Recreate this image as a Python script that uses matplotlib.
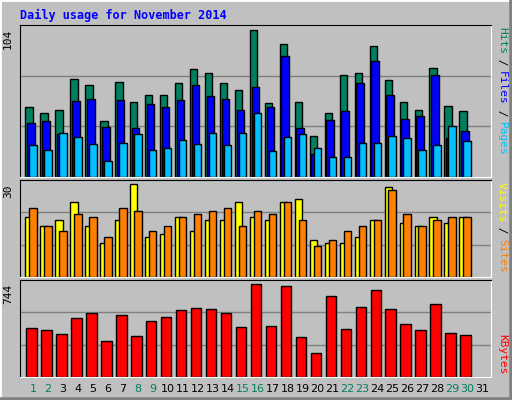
import matplotlib
matplotlib.use('Agg')
import matplotlib.pyplot as plt

days = list(range(1, 32))
hits = [49.6, 45.4, 47.5, 69.4, 65.2, 39.8, 67.3, 53.2, 58.1, 58.1, 66.6, 76.5, 73.6, 66.6, 61.6,
        104, 52.5, 94.1, 53.2, 29.2, 45.4, 72.2, 73.6, 92.7, 68.7, 53.2, 47.5, 77.2, 50.4, 46.8]
files = [38.4, 39.8, 30.6, 53.4, 55.3, 35.5, 54.6, 34.8, 51.8, 49.6, 54.6, 65.2, 57.4, 55.3, 47.5,
         63.8, 49.6, 85.6, 34.8, 16.5, 40.5, 46.8, 66.6, 82.1, 58.1, 41.2, 43.3, 72.2, 27.8, 32.7]
pages = [22.8, 19.3, 31.3, 28.5, 23.5, 11.5, 24.2, 30.6, 19.3, 20.7, 26.4, 23.5, 31.3, 22.8, 31.3,
         45.4, 18.6, 28.5, 30.6, 20.7, 14.4, 14.4, 24.2, 24.2, 29.2, 27.8, 19.3, 22.8, 36.2, 25.6]
sites = [19.2, 16.3, 18.3, 24.1, 16.3, 11.1, 18.3, 30, 13.0, 14.0, 19.2, 15.0, 18.3, 18.3, 24.1,
         19.2, 18.3, 24.1, 25.1, 12.1, 11.1, 11.1, 13.0, 18.3, 29.0, 17.3, 16.3, 19.2, 17.3, 19.2]
visits = [22.2, 16.3, 15.0, 20.2, 19.2, 13.0, 22.2, 21.2, 15.0, 16.3, 19.2, 20.2, 21.2, 22.2, 16.3,
          21.2, 20.2, 24.1, 18.3, 10.1, 12.1, 15.0, 16.3, 18.3, 28.0, 20.2, 16.3, 18.3, 19.2, 19.2]
kbytes = [392, 376, 343, 474, 515, 286, 499, 327, 450, 482, 540, 556, 548, 515, 401,
          744, 409, 728, 319, 196, 654, 384, 564, 695, 548, 425, 376, 589, 352, 335]
weekend = [1, 2, 8, 9, 15, 16, 22, 23, 29, 30]

W, H = 512, 400
BG = '#C0C0C0'
MONO = 'DejaVu Sans Mono'
fig = plt.figure(figsize=(W / 100, H / 100), dpi=100, facecolor=BG)

# 3D-ish border
fig.add_artist(plt.Line2D([0, 0], [0, 1], color='white', lw=2, transform=fig.transFigure))
fig.add_artist(plt.Line2D([0, 1], [1, 1], color='white', lw=2, transform=fig.transFigure))
fig.add_artist(plt.Line2D([1, 1], [0, 1], color='#808080', lw=4, transform=fig.transFigure))
fig.add_artist(plt.Line2D([0, 1], [0, 0], color='#808080', lw=4, transform=fig.transFigure))

fig.text(20 / W, 1 - 15 / H, 'Daily usage for November 2014', color='#0000FF',
         fontsize=8.5, fontweight='bold', family=MONO, va='center')


def panel(top, bottom):
    ax = fig.add_axes([20 / W, 1 - bottom / H, (491 - 20) / W, (bottom - top) / H])
    ax.set_facecolor(BG)
    ax.set_xlim(0.13, 31.6)
    for y in (1 / 3, 2 / 3):
        ax.plot([0, 1], [y, y], color='#808080', lw=1, transform=ax.transAxes, zorder=0)
    ax.set_xticks([])
    ax.set_yticks([])
    ax.spines['top'].set_color('black')
    ax.spines['left'].set_color('black')
    ax.spines['right'].set_color('white')
    ax.spines['bottom'].set_color('white')
    return ax


def side_label(ax, parts):
    # parts listed top-to-bottom; text reads top-to-bottom rotated 270
    bb = ax.get_position()
    x = bb.x1 + 11 / W
    y = bb.y1 - 2 / H
    for txt, col in parts:
        fig.text(x, y, txt, color=col, rotation=270, fontsize=8, family=MONO,
                 ha='center', va='top')
        y -= len(txt) * 6.3 / H


d = days[:len(hits)]
kw = dict(edgecolor='black', linewidth=1, align='edge')

ax1 = panel(25, 177)
ax1.bar([x - 0.51 for x in d], hits, width=0.49, color='#00805F', **kw)
ax1.bar([x - 0.40 for x in d], files, width=0.51, color='#0000FF', **kw)
ax1.bar([x - 0.25 for x in d], pages, width=0.50, color='#00C0FF', **kw)
ax1.set_ylim(0, 107.2)
fig.text(8 / W, 1 - 29 / H, '104', rotation=90, fontsize=8, family=MONO, ha='center', va='top')
side_label(ax1, [('Hits', '#00805F'), (' / ', 'black'), ('Files', '#0000FF'),
                 (' / ', 'black'), ('Pages', '#00C0FF')])

ax2 = panel(180, 277)
ax2.bar([x - 0.51 for x in d], sites, width=0.49, color='#FFFF00', **kw)
ax2.bar([x - 0.25 for x in d], visits, width=0.50, color='#FF8000', **kw)
ax2.set_ylim(0, 31.3)
fig.text(8 / W, 1 - 184 / H, '30', rotation=90, fontsize=8, family=MONO, ha='center', va='top')
side_label(ax2, [('Visits', '#FFFF00'), (' / ', 'black'), ('Sites', '#FF8000')])

ax3 = panel(280, 377)
ax3.bar([x - 0.45 for x in d], kbytes, width=0.70, color='#FF0000', **kw)
ax3.set_ylim(0, 779)
fig.text(8 / W, 1 - 284 / H, '744', rotation=90, fontsize=8, family=MONO, ha='center', va='top')
bb = ax3.get_position()
fig.text(bb.x1 + 11 / W, bb.y0 + 2 / H, 'KBytes', color='#FF0000', rotation=270, fontsize=8,
         family=MONO, ha='center', va='bottom')

for day in days:
    xf = (day - 0.13) / (31.6 - 0.13) * (471 / W) + 20 / W
    fig.text(xf, 1 - 389 / H, str(day), color='#00805F' if day in weekend else 'black',
             fontsize=8, ha='center', va='center')

fig.savefig('out.png', dpi=100, facecolor=BG)
